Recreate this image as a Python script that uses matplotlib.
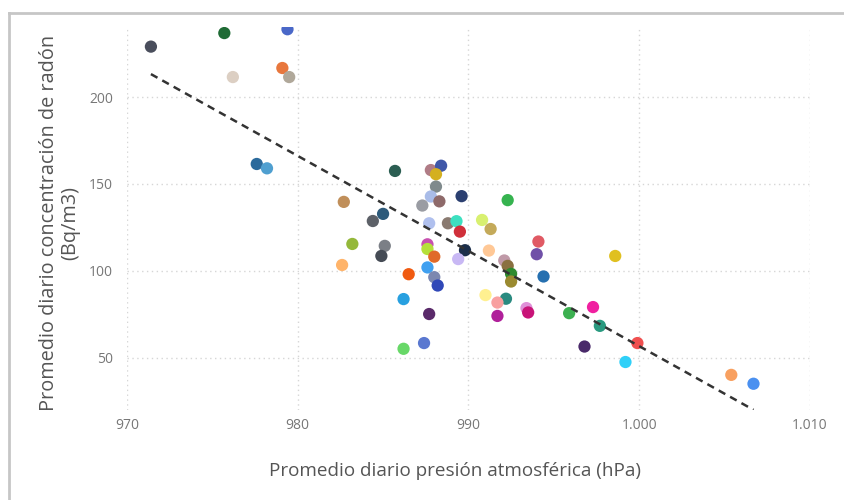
import numpy as np
import matplotlib
matplotlib.use("Agg")
from matplotlib import pyplot as plt
from matplotlib.ticker import FuncFormatter
from matplotlib.lines import Line2D

# presion atmosferica media diaria (hPa) y radon medio diario (Bq/m3)
presion = [971.4, 975.7, 979.4, 976.2, 979.1, 979.5, 977.6, 978.2, 982.7, 985.7,
           984.4, 985.0, 983.2, 982.6, 985.1, 984.9, 987.8, 988.4, 988.1, 988.1,
           987.8, 988.3, 987.3, 989.6, 992.3, 987.7, 988.8, 989.3, 989.5, 990.8,
           991.3, 987.6, 987.6, 988.0, 989.8, 989.4, 991.2, 994.1, 994.0, 992.1,
           992.3, 992.5, 992.5, 994.4, 986.5, 987.6, 988.0, 988.2, 986.2, 987.7,
           991.0, 992.2, 991.7, 991.7, 993.4, 993.5, 995.9, 986.2, 987.4, 998.6,
           997.3, 997.7, 996.8, 999.9, 999.2, 1005.4, 1006.7]
radon = [229, 236.8, 239, 211.5, 216.7, 211.5, 161.5, 159, 139.7, 157.5,
         128.7, 132.8, 115.5, 103.4, 114.4, 108.6, 158, 160.5, 155.6, 148.5,
         142.8, 140, 137.6, 143, 140.7, 127.4, 127.4, 128.6, 122.6, 129.3,
         124.1, 115.3, 112.6, 108.2, 111.9, 106.8, 111.7, 116.9, 109.6, 106,
         102.9, 98.3, 93.9, 96.8, 98.1, 102, 96.4, 91.6, 83.8, 75.2,
         86.1, 84, 81.8, 74.1, 78.6, 76.1, 75.7, 55.2, 58.5, 108.6,
         79.2, 68.4, 56.5, 58.5, 47.6, 40.2, 35.1]
colores = ['#4a4e5c', '#1f6b35', '#4a68c8', '#dccfc3', '#e8773d', '#b0a89a', '#2b6a9c', '#4f9fd0', '#c08f5a', '#2b5e52',
           '#5d6168', '#2d5a7a', '#94b83a', '#ffb46a', '#7b7f86', '#454b55', '#b07c86', '#3f57a8', '#d4b020', '#7f8a8c',
           '#a9bce8', '#8e6a6a', '#9a9ca3', '#2b3f70', '#36b34f', '#b0c0ee', '#8a7a70', '#3de0c0', '#d0303a', '#d8f070',
           '#c4aa5a', '#c850b0', '#b5e03a', '#e06a2a', '#1b2e4a', '#c8b8f4', '#ffc896', '#e05a64', '#7050a8', '#c09aa8',
           '#8a7040', '#2e8a2e', '#9a8a30', '#2670b0', '#f05a10', '#40a0f0', '#7c88b0', '#3048b8', '#28a0e0', '#5a2a6a',
           '#fff090', '#2a8a80', '#f8a0a0', '#b0209a', '#e090d8', '#c81478', '#3cb050', '#68d868', '#5a78d0', '#e0c020',
           '#f020a0', '#2a9a80', '#4a2a6a', '#f05050', '#30d0f8', '#f8a060', '#4a90f0']

# linea de tendencia
tend_x = [971.4, 1006.7]
tend_y = [213.2, 20.1]

xticks = [970, 980, 990, 1000, 1010]
yticks = [50, 100, 150, 200]

plt.rcParams['font.family'] = ['Open Sans', 'DejaVu Sans']

fig = plt.figure(figsize=(8.44, 5.0), dpi=100)
ax = fig.add_axes([0.1505, 0.18, 0.809, 0.765])

ax.scatter(presion, radon, s=78, c=colores, linewidths=0, zorder=3)
ax.plot(tend_x, tend_y, color='#333333', lw=1.8, linestyle=(0, (3, 2.2)), zorder=4)

ax.set_xlim(970, 1010)
ax.set_ylim(20, 240)
ax.set_xticks(xticks)
ax.set_yticks(yticks)
ax.xaxis.set_major_formatter(FuncFormatter(lambda v, p: f"{int(v):,}".replace(',', '.')))
ax.tick_params(length=0, labelsize=10, labelcolor='#777777')
ax.tick_params(axis='y', pad=10)
ax.tick_params(axis='x', pad=6)
ax.grid(True, linestyle=(0, (1, 2.5)), color='#d6d6d6', lw=1)
for s in ax.spines.values():
    s.set_visible(False)

ax.set_xlabel('Promedio diario presión atmosférica (hPa)', fontsize=13.6, color='#555555')
ax.xaxis.set_label_coords(0.481, -0.135)
ax.set_ylabel('Promedio diario concentración de radón\n(Bq/m3)', fontsize=14.3, color='#555555',
              linespacing=1.1)
ax.yaxis.set_label_coords(-0.068, 0.49)

# marco de la captura
fig.add_artist(Line2D([0.011, 0.011], [0.0, 0.974], color='#c6c6c6', lw=2))
fig.add_artist(Line2D([0.011, 1.0], [0.974, 0.974], color='#c6c6c6', lw=2))

fig.savefig('out.png', dpi=100)
